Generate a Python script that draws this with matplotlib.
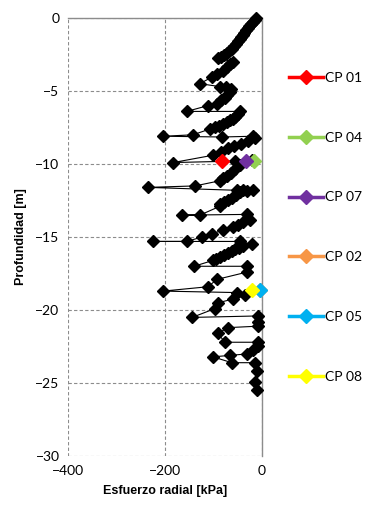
import matplotlib.pyplot as plt

# black profile (all tests), in drawing order
esfuerzo = [-12, -15, -19, -22, -26, -29, -32, -36, -39, -43, -46, -50, -54, -58, -62, -67, -72, -78, -85, -91,
            -60, -66, -72, -80, -93, -103, -128, -87, -75, -64,
            -66, -71, -77, -84, -93, -111, -155, -45,
            -50, -55, -60, -66, -72, -80, -88, -97, -107, -142, -204, -82, -19,
            -14, -28, -43, -57, -70, -85, -101, -183, -56, -20,
            -45, -55, -63, -72, -80, -87, -138, -235, -52, -40, -30, -19,
            -45, -54, -62, -70, -78, -86, -87, -128, -165, -31, -25,
            -40, -50, -60, -80, -103, -124, -155, -225, -45, -21,
            -39, -48, -55, -62, -70, -78, -86, -95, -101, -140, -31, -31,
            -93, -111, -204, -52, -35, -60, -91, -97, -144, -8, -8, -8, -70,
            -91, -76, -8, -8, -19, -31, -66, -101, -62, -14, -10, -14, -10]
profundidad = [0.0, -0.12, -0.25, -0.4, -0.55, -0.7, -0.85, -1.0, -1.15, -1.3, -1.45, -1.6, -1.78, -1.95, -2.1, -2.25, -2.4, -2.55, -2.65, -2.75,
               -3.0, -3.15, -3.35, -3.6, -3.85, -4.05, -4.5, -4.7, -4.75, -4.85,
               -5.05, -5.25, -5.45, -5.65, -5.9, -6.0, -6.4, -6.4,
               -6.6, -6.75, -6.9, -7.02, -7.15, -7.28, -7.4, -7.5, -7.6, -8.0, -8.1, -8.15, -8.1,
               -8.2, -8.4, -8.6, -8.75, -8.9, -9.15, -9.4, -9.9, -9.8, -9.75,
               -10.1, -10.35, -10.6, -10.8, -10.95, -11.15, -11.5, -11.6, -11.8, -11.75, -11.85, -11.8,
               -11.95, -12.15, -12.3, -12.45, -12.6, -12.75, -12.9, -13.5, -13.5, -13.45, -13.8,
               -14.0, -14.15, -14.3, -14.5, -14.8, -15.0, -15.3, -15.3, -15.3, -15.5,
               -15.6, -15.75, -15.85, -15.95, -16.1, -16.2, -16.35, -16.5, -16.6, -17.0, -17.0, -17.4,
               -17.9, -18.4, -18.7, -18.8, -19.0, -19.25, -19.5, -19.9, -20.5, -20.4, -20.8, -21.1, -21.2,
               -21.6, -22.2, -22.2, -22.45, -22.7, -23.0, -23.1, -23.2, -23.6, -23.6, -24.2, -24.9, -25.5]

# individual tests
cp_nombres = ["CP 01", "CP 04", "CP 07", "CP 02", "CP 05", "CP 08"]
cp_esfuerzo = [-82, -17, -33, -4, -4, -21]
cp_profundidad = [-9.8, -9.8, -9.8, -18.6, -18.6, -18.6]
cp_colores = ["#ff0000", "#92d050", "#7030a0", "#f79646", "#00b0f0", "#ffff00"]

plt.rcParams['font.family'] = ['Lato', 'DejaVu Sans']

fig = plt.figure(figsize=(3.71, 5.12), dpi=100)
ax = fig.add_axes([0.183, 0.109, 0.523, 0.856])

ax.plot(esfuerzo, profundidad, color='black', lw=0.8, marker='D', ms=6.5, zorder=3, clip_on=False)
for nom, xv, yv, col in zip(cp_nombres, cp_esfuerzo, cp_profundidad, cp_colores):
    ax.plot([xv], [yv], color=col, lw=2.5, marker='D', ms=7.5, label=nom, zorder=4, clip_on=False)

ax.set_xlim(-400, 0)
ax.set_ylim(-30, 0)
ax.set_xticks([-400, -200, 0])
ax.set_yticks([0, -5, -10, -15, -20, -25, -30])
ax.tick_params(length=0, labelsize=10, pad=6)
ax.grid(True, color='#8c8c8c', ls=(0, (3, 2)), lw=0.8)
ax.set_axisbelow(True)
for s in ['left', 'bottom']:
    ax.spines[s].set_visible(False)
for s in ['top', 'right']:
    ax.spines[s].set_color('#8c8c8c')
    ax.spines[s].set_linewidth(1.0)

ax.set_xlabel("Esfuerzo radial [kPa]", family='Liberation Sans', fontweight='bold', fontsize=9, labelpad=6)
ax.set_ylabel("Profundidad [m]", family='Liberation Sans', fontweight='bold', fontsize=9, labelpad=6)

fig.legend(loc='upper left', bbox_to_anchor=(0.765, 0.871), frameon=False, fontsize=10,
           labelspacing=3.45, handlelength=2.4, handletextpad=0.2, borderaxespad=0)

plt.savefig("out.png")
